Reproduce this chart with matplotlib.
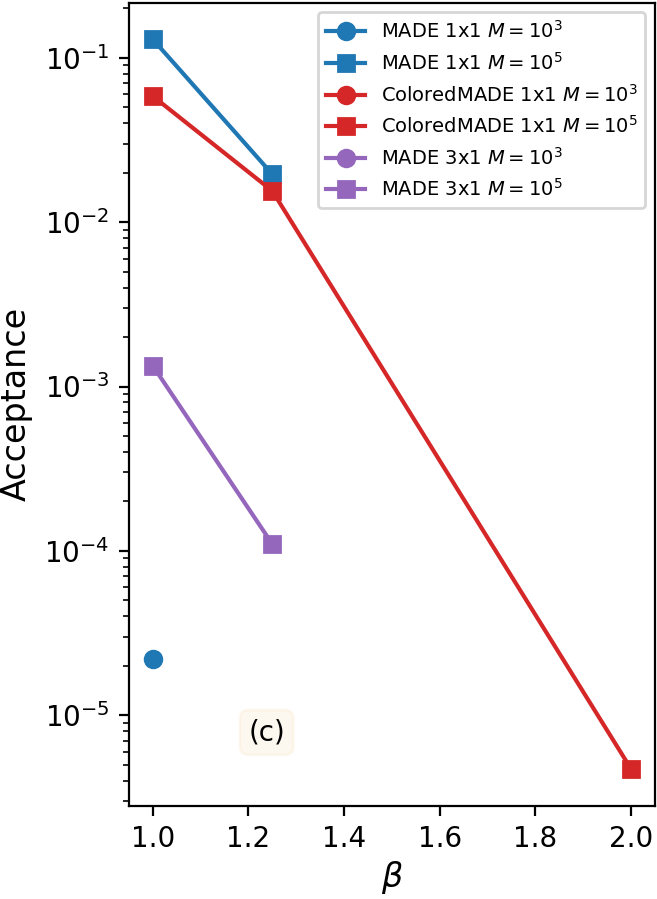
import matplotlib
matplotlib.use("Agg")
import matplotlib.pyplot as plt

# ==================== data ====================
beta_made_1x1_m3 = [1.0]
acc_made_1x1_m3 = [2.2e-5]

beta_made_1x1_m5 = [1.0, 1.25]
acc_made_1x1_m5 = [0.13, 0.0196]

beta_colored_m3 = []
acc_colored_m3 = []

beta_colored_m5 = [1.0, 1.25, 2.0]
acc_colored_m5 = [0.0586, 0.0155, 4.7e-6]

beta_made_3x1_m3 = []
acc_made_3x1_m3 = []

beta_made_3x1_m5 = [1.0, 1.25]
acc_made_3x1_m5 = [1.34e-3, 1.1e-4]

series = [
    (beta_made_1x1_m3, acc_made_1x1_m3, "tab:blue", "o", r"MADE 1x1 $M=10^3$"),
    (beta_made_1x1_m5, acc_made_1x1_m5, "tab:blue", "s", r"MADE 1x1 $M=10^5$"),
    (beta_colored_m3, acc_colored_m3, "tab:red", "o", r"ColoredMADE 1x1 $M=10^3$"),
    (beta_colored_m5, acc_colored_m5, "tab:red", "s", r"ColoredMADE 1x1 $M=10^5$"),
    (beta_made_3x1_m3, acc_made_3x1_m3, "tab:purple", "o", r"MADE 3x1 $M=10^3$"),
    (beta_made_3x1_m5, acc_made_3x1_m5, "tab:purple", "s", r"MADE 3x1 $M=10^5$"),
]

# ==================== plot ====================
fig, ax = plt.subplots(figsize=(6.57 / 2, 8.99 / 2), dpi=200)

for x, y, c, m, lab in series:
    ax.plot(x, y, color=c, marker=m, label=lab)

ax.set_yscale("log")
ax.set_xlabel(r"$\beta$", fontsize=12, labelpad=2)
ax.set_ylabel("Acceptance", fontsize=12)
ax.legend(loc="upper right", fontsize=7.0)

ax.text(0.262, 0.091, "(c)", transform=ax.transAxes, ha="center", va="center",
        bbox=dict(boxstyle="round", facecolor="wheat", edgecolor="wheat", alpha=0.2))

fig.subplots_adjust(left=0.196, right=0.997, bottom=0.104, top=0.997)
fig.savefig("out.png", dpi=200)
